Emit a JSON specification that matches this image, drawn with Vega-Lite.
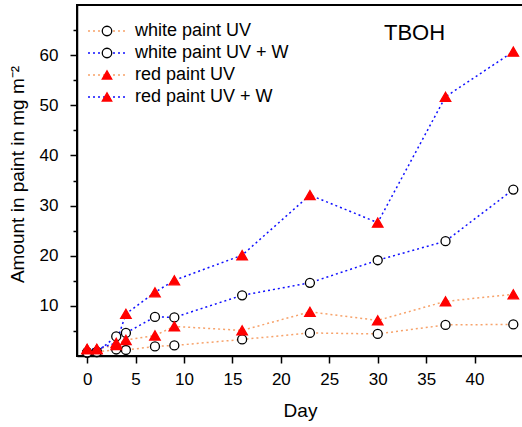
{
  "$schema": "https://vega.github.io/schema/vega-lite/v6.json",
  "autosize": {"type": "none"},
  "padding": {"left": 77, "top": 5, "right": 0, "bottom": 71},
  "width": 446,
  "height": 351,
  "background": "white",
  "config": {
    "font": "Liberation Sans",
    "view": {"stroke": "black", "strokeWidth": 2},
    "axis": {"domainColor": "black", "domainWidth": 1.5, "tickColor": "black", "tickWidth": 1.5, "labelColor": "black", "titleColor": "black", "labelFont": "Liberation Sans", "titleFont": "Liberation Sans", "grid": false, "titleFontWeight": "normal"},
    "legend": {"labelFont": "Liberation Sans", "labelFontSize": 18, "labelColor": "black", "padding": 0, "rowPadding": 4}
  },
  "title": {"text": "TBOH", "font": "Liberation Sans", "fontSize": 22, "fontWeight": "normal", "color": "black", "anchor": "start", "frame": "group", "orient": "top", "baseline": "alphabetic", "offset": 0, "dx": 307, "dy": 57},
  "data": {"values": [
    {"day": 0, "value": 0.7, "series": "white paint UV", "marker": "open circle, UV"},
    {"day": 1, "value": 0.8, "series": "white paint UV", "marker": "open circle, UV"},
    {"day": 3, "value": 1.3, "series": "white paint UV", "marker": "open circle, UV"},
    {"day": 4, "value": 1.2, "series": "white paint UV", "marker": "open circle, UV"},
    {"day": 7, "value": 1.9, "series": "white paint UV", "marker": "open circle, UV"},
    {"day": 9, "value": 2.1, "series": "white paint UV", "marker": "open circle, UV"},
    {"day": 16, "value": 3.3, "series": "white paint UV", "marker": "open circle, UV"},
    {"day": 23, "value": 4.6, "series": "white paint UV", "marker": "open circle, UV"},
    {"day": 30, "value": 4.4, "series": "white paint UV", "marker": "open circle, UV"},
    {"day": 37, "value": 6.2, "series": "white paint UV", "marker": "open circle, UV"},
    {"day": 44, "value": 6.3, "series": "white paint UV", "marker": "open circle, UV"},
    {"day": 0, "value": 0.7, "series": "white paint UV + W", "marker": "open circle, UV + W"},
    {"day": 1, "value": 0.8, "series": "white paint UV + W", "marker": "open circle, UV + W"},
    {"day": 3, "value": 3.9, "series": "white paint UV + W", "marker": "open circle, UV + W"},
    {"day": 4, "value": 4.6, "series": "white paint UV + W", "marker": "open circle, UV + W"},
    {"day": 7, "value": 7.8, "series": "white paint UV + W", "marker": "open circle, UV + W"},
    {"day": 9, "value": 7.7, "series": "white paint UV + W", "marker": "open circle, UV + W"},
    {"day": 16, "value": 12.1, "series": "white paint UV + W", "marker": "open circle, UV + W"},
    {"day": 23, "value": 14.6, "series": "white paint UV + W", "marker": "open circle, UV + W"},
    {"day": 30, "value": 19.1, "series": "white paint UV + W", "marker": "open circle, UV + W"},
    {"day": 37, "value": 22.9, "series": "white paint UV + W", "marker": "open circle, UV + W"},
    {"day": 44, "value": 33.2, "series": "white paint UV + W", "marker": "open circle, UV + W"},
    {"day": 0, "value": 1.4, "series": "red paint UV", "marker": "red triangle, UV"},
    {"day": 1, "value": 1.4, "series": "red paint UV", "marker": "red triangle, UV"},
    {"day": 3, "value": 2.2, "series": "red paint UV", "marker": "red triangle, UV"},
    {"day": 4, "value": 3.2, "series": "red paint UV", "marker": "red triangle, UV"},
    {"day": 7, "value": 4.1, "series": "red paint UV", "marker": "red triangle, UV"},
    {"day": 9, "value": 5.9, "series": "red paint UV", "marker": "red triangle, UV"},
    {"day": 16, "value": 5.1, "series": "red paint UV", "marker": "red triangle, UV"},
    {"day": 23, "value": 8.8, "series": "red paint UV", "marker": "red triangle, UV"},
    {"day": 30, "value": 7.1, "series": "red paint UV", "marker": "red triangle, UV"},
    {"day": 37, "value": 10.9, "series": "red paint UV", "marker": "red triangle, UV"},
    {"day": 44, "value": 12.3, "series": "red paint UV", "marker": "red triangle, UV"},
    {"day": 0, "value": 1.4, "series": "red paint UV + W", "marker": "red triangle, UV + W"},
    {"day": 1, "value": 1.4, "series": "red paint UV + W", "marker": "red triangle, UV + W"},
    {"day": 3, "value": 2.6, "series": "red paint UV + W", "marker": "red triangle, UV + W"},
    {"day": 4, "value": 8.4, "series": "red paint UV + W", "marker": "red triangle, UV + W"},
    {"day": 7, "value": 12.7, "series": "red paint UV + W", "marker": "red triangle, UV + W"},
    {"day": 9, "value": 15.1, "series": "red paint UV + W", "marker": "red triangle, UV + W"},
    {"day": 16, "value": 20.1, "series": "red paint UV + W", "marker": "red triangle, UV + W"},
    {"day": 23, "value": 32.1, "series": "red paint UV + W", "marker": "red triangle, UV + W"},
    {"day": 30, "value": 26.6, "series": "red paint UV + W", "marker": "red triangle, UV + W"},
    {"day": 37, "value": 51.7, "series": "red paint UV + W", "marker": "red triangle, UV + W"},
    {"day": 44, "value": 60.7, "series": "red paint UV + W", "marker": "red triangle, UV + W"}
  ]},
  "encoding": {
    "x": {"field": "day", "type": "quantitative", "scale": {"domain": [-1.05, 45], "nice": false, "zero": false},
      "axis": {"title": "Day", "values": [0, 5, 10, 15, 20, 25, 30, 35, 40], "tickSize": 7, "labelFontSize": 17, "labelPadding": 8, "titleFontSize": 19, "titlePadding": 14}},
    "y": {"field": "value", "type": "quantitative", "scale": {"domain": [0, 70], "nice": false},
      "axis": {"title": "Amount in paint in mg m⁻²", "values": [5, 10, 15, 20, 25, 30, 35, 40, 45, 50, 55, 60, 65],
        "labelExpr": "datum.value % 10 == 0 ? datum.label : ''",
        "tickSize": {"condition": {"test": "datum.value % 10 == 0", "value": 7}, "value": 4},
        "labelFontSize": 17, "labelPadding": 12, "titleFontSize": 19, "titlePadding": 12, "titleY": 169}}
  },
  "layer": [
    {
      "mark": {"type": "line", "strokeDash": [2, 3], "strokeWidth": 1.5},
      "encoding": {
        "color": {"field": "series", "type": "nominal",
          "scale": {"domain": ["white paint UV", "white paint UV + W", "red paint UV", "red paint UV + W"], "range": ["#f7a26a", "#1010ff", "#f7a26a", "#1010ff"]},
          "legend": {"title": null, "orient": "none", "legendX": 7, "legendY": 17, "symbolType": "M-1,0H6.6", "symbolSize": 100, "symbolStrokeWidth": 1.5, "symbolDash": [2, 3], "labelOffset": 33}}
      }
    },
    {
      "mark": {"type": "point", "filled": false, "opacity": 1, "strokeWidth": 1.3},
      "encoding": {
        "shape": {"field": "marker", "type": "nominal",
          "scale": {"domain": ["open circle, UV", "open circle, UV + W", "red triangle, UV", "red triangle, UV + W"], "range": ["circle", "circle", "triangle-up", "triangle-up"]},
          "legend": {"title": null, "orient": "none", "legendX": 21, "legendY": 17, "labelExpr": "''", "symbolSize": 90, "symbolStrokeWidth": 1.3}},
        "fill": {"field": "marker", "type": "nominal",
          "scale": {"domain": ["open circle, UV", "open circle, UV + W", "red triangle, UV", "red triangle, UV + W"], "range": ["white", "white", "#ff0000", "#ff0000"]},
          "legend": {"title": null, "orient": "none", "legendX": 21, "legendY": 17, "labelExpr": "''", "symbolSize": 90, "symbolStrokeWidth": 1.3}},
        "stroke": {"field": "marker", "type": "nominal",
          "scale": {"domain": ["open circle, UV", "open circle, UV + W", "red triangle, UV", "red triangle, UV + W"], "range": ["black", "black", "#ff0000", "#ff0000"]},
          "legend": {"title": null, "orient": "none", "legendX": 21, "legendY": 17, "labelExpr": "''", "symbolSize": 90, "symbolStrokeWidth": 1.3}},
        "size": {"condition": {"test": "indexof(datum.marker, 'triangle') >= 0", "value": 110}, "value": 81}
      }
    }
  ]
}
